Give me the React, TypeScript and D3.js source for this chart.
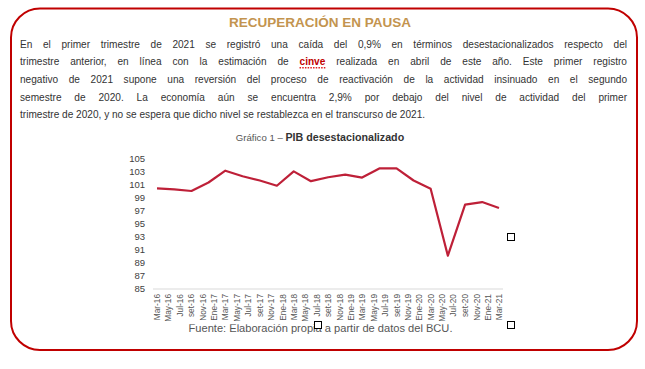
import React from "react";
import * as d3 from "d3";

const W = 645;
const H = 369;
const FONT = "'Liberation Sans', Arial, Helvetica, sans-serif";

const TITLE = "RECUPERACIÓN EN PAUSA";
const PARAGRAPH_LINES = [
  "En el primer trimestre de 2021 se registró una caída del 0,9% en términos desestacionalizados respecto del",
  "trimestre anterior, en línea con la estimación de cinve realizada en abril de este año. Este primer registro",
  "negativo de 2021 supone una reversión del proceso de reactivación de la actividad insinuado en el segundo",
  "semestre de 2020. La economía aún se encuentra 2,9% por debajo del nivel de actividad del primer",
  "trimestre de 2020, y no se espera que dicho nivel se restablezca en el transcurso de 2021.",
];
const HIGHLIGHT_WORD = "cinve";
const CHART_TITLE_PREFIX = "Gráfico 1 – ";
const CHART_TITLE_MAIN = "PIB desestacionalizado";
const SOURCE = "Fuente: Elaboración propia a partir de datos del BCU.";

// Quarterly observations (year, month index 0-based)
const quarterDates = [
  [2016, 2], [2016, 5], [2016, 8], [2016, 11],
  [2017, 2], [2017, 5], [2017, 8], [2017, 11],
  [2018, 2], [2018, 5], [2018, 8], [2018, 11],
  [2019, 2], [2019, 5], [2019, 8], [2019, 11],
  [2020, 2], [2020, 5], [2020, 8], [2020, 11],
  [2021, 2],
];
const pibValues = [
  100.4, 100.25, 100.0, 101.3,
  103.1, 102.25, 101.6, 100.8,
  103.0, 101.5, 102.1, 102.5,
  102.05, 103.45, 103.45, 101.6,
  100.35, 90.1, 97.9, 98.3,
  97.4,
];

const xTickLabels = [
  "Mar-16", "May-16", "Jul-16", "set-16", "Nov-16", "Ene-17",
  "Mar-17", "May-17", "Jul-17", "set-17", "Nov-17", "Ene-18",
  "Mar-18", "May-18", "Jul-18", "set-18", "Nov-18", "Ene-19",
  "Mar-19", "May-19", "Jul-19", "set-19", "Nov-19", "Ene-20",
  "Mar-20", "May-20", "Jul-20", "set-20", "Nov-20", "Ene-21",
  "Mar-21",
];
const yTicks = [85, 87, 89, 91, 93, 95, 97, 99, 101, 103, 105];

let _ctx: CanvasRenderingContext2D | null = null;
function measure(text: string, font: string): number {
  if (!_ctx) {
    const c = document.createElement("canvas");
    _ctx = c.getContext("2d");
  }
  if (!_ctx) return text.length * 5;
  _ctx.font = font;
  return _ctx.measureText(text).width;
}

const P_SIZE = 10.1;
const P_LEFT = 20;
const P_RIGHT = 627;
const P_BASE = 47.5;
const P_STEP = 17.7;

function Paragraph() {
  const normalFont = `${P_SIZE}px ${FONT}`;
  const boldFont = `bold ${P_SIZE}px ${FONT}`;
  const out: React.ReactNode[] = [];
  PARAGRAPH_LINES.forEach((line, li) => {
    const words = line.split(" ");
    const widths = words.map((w) =>
      measure(w, w === HIGHLIGHT_WORD ? boldFont : normalFont)
    );
    const total = widths.reduce((a, b) => a + b, 0);
    const isLast = li === PARAGRAPH_LINES.length - 1;
    const gap = isLast
      ? measure(" ", normalFont)
      : (P_RIGHT - P_LEFT - total) / (words.length - 1);
    let x = P_LEFT;
    const y = P_BASE + li * P_STEP;
    words.forEach((w, wi) => {
      const hl = w === HIGHLIGHT_WORD;
      out.push(
        <text
          key={`${li}-${wi}`}
          x={x}
          y={y}
          fontFamily={FONT}
          fontSize={P_SIZE}
          fontWeight={hl ? "bold" : "normal"}
          fill={hl ? "#C00000" : "#333333"}
        >
          {w}
        </text>
      );
      if (hl) {
        out.push(
          <line
            key={`u-${li}-${wi}`}
            x1={x}
            x2={x + widths[wi]}
            y1={y + 2.5}
            y2={y + 2.5}
            stroke="#E02020"
            strokeWidth={1.4}
            strokeDasharray="1.5,1.2"
          />
        );
      }
      x += widths[wi] + gap;
    });
  });
  return <g>{out}</g>;
}

export default function App() {
  const x = d3
    .scaleTime()
    .domain([new Date(2016, 2, 1), new Date(2021, 2, 1)])
    .range([157, 499]);
  const y = d3.scaleLinear().domain([85, 105]).range([289, 158.3]);

  const points = quarterDates.map((d, i) => ({
    date: new Date(d[0], d[1], 1),
    v: pibValues[i],
  }));
  const line = d3
    .line<{ date: Date; v: number }>()
    .x((d) => x(d.date))
    .y((d) => y(d.v));

  const tickDates = xTickLabels.map((_, i) => d3.timeMonth.offset(new Date(2016, 2, 1), i * 2));

  const handles = [
    [511, 237],
    [318, 325],
    [511, 325],
  ];

  return (
    <svg
      width={W}
      height={H}
      style={{ position: "absolute", left: 0, top: 0, background: "#fff" }}
    >
      <defs>
        <clipPath id="srcClip">
          <rect x={0} y={324.3} width={W} height={20} />
        </clipPath>
      </defs>
      <rect x={0} y={0} width={W} height={H} fill="#fff" />
      <rect
        x={11}
        y={8.5}
        width={626}
        height={341.5}
        rx={29}
        ry={29}
        fill="#fff"
        stroke="#C00000"
        strokeWidth={2}
      />
      <text
        x={320}
        y={26.5}
        textAnchor="middle"
        fontFamily={FONT}
        fontSize={13.5}
        fontWeight="bold"
        fill="#C3944F"
      >
        {TITLE}
      </text>
      <Paragraph />
      <text x={320} y={141} textAnchor="middle" fontFamily={FONT}>
        <tspan fill="#555" fontSize={9.6}>{CHART_TITLE_PREFIX}</tspan>
        <tspan fill="#333" fontWeight="bold" fontSize={10.7}>
          {CHART_TITLE_MAIN}
        </tspan>
      </text>
      {yTicks.map((t) => (
        <text
          key={t}
          x={145}
          y={y(t)}
          dy="0.35em"
          textAnchor="end"
          fontFamily={FONT}
          fontSize={9.5}
          fill="#404040"
        >
          {t}
        </text>
      ))}
      <line x1={153} x2={503} y1={y(85)} y2={y(85)} stroke="#D9D9D9" strokeWidth={1} />
      {xTickLabels.map((lab, i) => {
        const px = x(tickDates[i]);
        return (
          <text
            key={lab}
            transform={`translate(${px + 3},294) rotate(-90)`}
            textAnchor="end"
            fontFamily={FONT}
            fontSize={8.3}
            fill="#555"
          >
            {lab}
          </text>
        );
      })}
      <path
        d={line(points) || ""}
        fill="none"
        stroke="#BE2038"
        strokeWidth={2.2}
        strokeLinejoin="round"
      />
      <text
        x={320.5}
        y={331.5}
        textAnchor="middle"
        fontFamily={FONT}
        fontSize={11.1}
        fill="#555"
        clipPath="url(#srcClip)"
      >
        {SOURCE}
      </text>
      {handles.map(([hx, hy], i) => (
        <rect
          key={i}
          x={hx - 3.5}
          y={hy - 3.5}
          width={7}
          height={7}
          fill="#fff"
          stroke="#000"
          strokeWidth={1}
        />
      ))}
    </svg>
  );
}
